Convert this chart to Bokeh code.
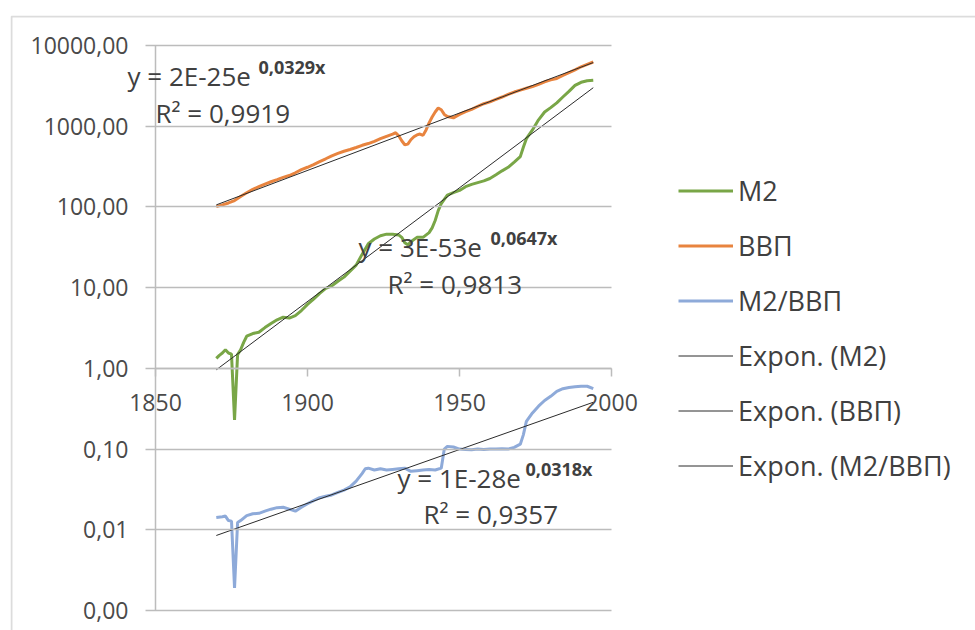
from bokeh.plotting import figure
from bokeh.models import (FixedTicker, CustomJSTickFormatter, Legend, LegendItem,
                          Label, BoxAnnotation, LinearAxis)
from bokeh.embed import file_html
from bokeh.resources import INLINE

# ---- data ----
m2_years = [1870, 1871, 1872, 1873, 1874, 1875, 1876, 1877, 1878, 1879, 1880, 1881, 1882,
            1884, 1886, 1888, 1890, 1892, 1894, 1896, 1898, 1900, 1902, 1904, 1906, 1908,
            1910, 1912, 1914, 1916, 1918, 1920, 1922, 1924, 1926, 1928, 1930, 1931, 1932,
            1933, 1934, 1936, 1938, 1940, 1941, 1942, 1943, 1944, 1946, 1948, 1950, 1952,
            1954, 1956, 1958, 1960, 1962, 1964, 1966, 1968, 1970, 1971, 1972, 1974, 1976,
            1978, 1980, 1982, 1984, 1986, 1988, 1990, 1992, 1994]
m2 = [1.33, 1.45, 1.55, 1.7, 1.55, 1.5, 0.23, 1.48, 1.7, 2.1, 2.5, 2.6, 2.7,
      2.8, 3.2, 3.6, 4.0, 4.3, 4.2, 4.5, 5.2, 6.2, 7.2, 8.5, 9.8, 10.5,
      12.0, 13.5, 16, 19, 26, 35, 40, 44, 46, 46, 45, 42, 36,
      34, 37, 42, 42, 48, 55, 68, 90, 110, 140, 150, 160, 178,
      190, 200, 210, 225, 250, 280, 310, 360, 420, 550, 700, 900, 1200,
      1500, 1700, 1950, 2300, 2700, 3200, 3500, 3650, 3700]

gdp_years = [1870, 1872, 1874, 1876, 1878, 1880, 1882, 1884, 1886, 1888, 1890, 1892, 1894,
             1896, 1898, 1900, 1902, 1904, 1906, 1908, 1910, 1912, 1914, 1916, 1918, 1920,
             1922, 1924, 1926, 1928, 1929, 1930, 1931, 1932, 1933, 1934, 1935, 1936, 1937,
             1938, 1939, 1940, 1941, 1942, 1943, 1944, 1945, 1946, 1948, 1950, 1952, 1954,
             1956, 1958, 1960, 1962, 1964, 1966, 1968, 1970, 1972, 1974, 1976, 1978, 1980,
             1982, 1984, 1986, 1988, 1990, 1992, 1994]
gdp = [101, 106, 112, 120, 135, 150, 165, 178, 192, 205, 218, 232, 245,
       265, 290, 310, 335, 365, 395, 430, 460, 490, 515, 545, 580, 610,
       650, 700, 750, 800, 830, 760, 660, 590, 600, 680, 740, 780, 800,
       770, 900, 1100, 1300, 1500, 1680, 1600, 1400, 1320, 1270, 1400, 1520, 1620,
       1760, 1900, 2000, 2150, 2300, 2480, 2650, 2800, 2950, 3100, 3300, 3550, 3750,
       3900, 4250, 4600, 5000, 5450, 5850, 6250]

ratio_years = [1870, 1872, 1873, 1874, 1875, 1876, 1877, 1878, 1880, 1882, 1884, 1886, 1888,
               1890, 1892, 1894, 1896, 1898, 1900, 1902, 1904, 1906, 1908, 1910, 1912, 1914,
               1916, 1918, 1919, 1920, 1922, 1924, 1926, 1928, 1930, 1932, 1934, 1936, 1938,
               1940, 1942, 1944, 1945, 1946, 1948, 1950, 1952, 1954, 1956, 1958, 1960, 1962,
               1964, 1966, 1968, 1970, 1971, 1972, 1974, 1976, 1978, 1980, 1982, 1984, 1986,
               1988, 1990, 1992, 1994]
ratio = [0.0142, 0.0145, 0.0148, 0.013, 0.0128, 0.0019, 0.0123, 0.013, 0.015, 0.0158, 0.016, 0.017, 0.018,
         0.0188, 0.019, 0.018, 0.017, 0.019, 0.021, 0.023, 0.025, 0.026, 0.027, 0.029, 0.031, 0.034,
         0.04, 0.05, 0.057, 0.058, 0.055, 0.057, 0.055, 0.056, 0.057, 0.058, 0.053, 0.054, 0.055,
         0.056, 0.055, 0.058, 0.1, 0.108, 0.106, 0.1, 0.099, 0.098, 0.1, 0.099, 0.1, 0.1,
         0.101, 0.1, 0.105, 0.115, 0.15, 0.22, 0.28, 0.34, 0.4, 0.45, 0.52, 0.56, 0.58,
         0.59, 0.6, 0.6, 0.56]

trend_years = [1870, 1994]
trend_m2 = [0.96, 3000]
trend_gdp = [106, 6150]
trend_ratio = [0.0085, 0.38]

x_ticks = [1850, 1900, 1950, 2000]
y_ticks = [0.001, 0.01, 0.1, 1, 10, 100, 1000, 10000]

series_names = ["M2", "ВВП", "M2/ВВП"]
trend_names = ["Expon. (M2)", "Expon. (ВВП)", "Expon. (M2/ВВП)"]
eq_texts = [("y = 2E-25e", "0,0329x", "R² = 0,9919"),
            ("y = 3E-53e", "0,0647x", "R² = 0,9813"),
            ("y = 1E-28e", "0,0318x", "R² = 0,9357")]

# ---- styles / layout ----
GREEN = "#79a647"
ORANGE = "#e8843f"
BLUE = "#8eaad9"
TREND = "#2b2b2b"
GRID = "#bcbcbc"
TXT = "#404040"
TICK_TXT = "#4a4a4a"
FONT = "Open Sans"

W, H = 975, 630
FL, FT = 10, 15                 # frame left / top in page pixels (chart border)
AX_L, AX_R = 155, 611           # pixel x of 1850 / 2000
AX_T, AX_B = 45, 610            # pixel y of 10000 / 0.001
kx = (AX_R - AX_L) / 150.0
ky = (AX_B - AX_T) / 7.0
x0 = 1850 - (AX_L - FL) / kx
x1 = 2000 + (W - AX_R) / kx
ly0 = -3 - (H - AX_B) / ky
ly1 = 4 + (AX_T - FT) / ky

p = figure(width=W, height=H, y_axis_type="log",
           x_range=(x0, x1), y_range=(10 ** ly0, 10 ** ly1),
           output_backend="svg", toolbar_location=None,
           x_axis_location=None,
           min_border_left=FL, min_border_right=0,
           min_border_top=FT, min_border_bottom=0)
p.outline_line_color = None
p.background_fill_color = "white"
p.border_fill_color = "white"
p.xgrid.grid_line_color = None
p.ygrid.grid_line_color = None

# y axis at x = 1850; its long inner ticks act as the horizontal gridlines
yax = p.yaxis[0]
yax.fixed_location = 1850
yax.bounds = (0.001, 10000)
yax.ticker = FixedTicker(ticks=y_ticks, minor_ticks=[])
yax.formatter = CustomJSTickFormatter(code="return tick.toFixed(2).replace('.', ',');")
yax.axis_line_color = GRID
yax.axis_line_width = 1.5
yax.major_tick_line_color = GRID
yax.major_tick_line_width = 1.5
yax.major_tick_out = 10
yax.major_tick_in = AX_R - AX_L
yax.minor_tick_line_color = None
yax.major_label_standoff = 17
yax.major_label_text_font = FONT
yax.major_label_text_font_size = "23px"
yax.major_label_text_color = TICK_TXT

# x axis crossing at y = 1
xax = LinearAxis(ticker=FixedTicker(ticks=x_ticks, minor_ticks=[]), fixed_location=1,
                 bounds=(1850, 2000))
xax.axis_line_color = GRID
xax.axis_line_width = 1.5
xax.major_tick_line_color = GRID
xax.major_tick_line_width = 1.5
xax.major_tick_out = 8
xax.major_tick_in = 0
xax.minor_tick_line_color = None
xax.major_label_standoff = 18
xax.major_label_text_font = FONT
xax.major_label_text_font_size = "23px"
xax.major_label_text_color = TICK_TXT
p.add_layout(xax, "below")

# series
r_m2 = p.line(m2_years, m2, line_color=GREEN, line_width=3)
r_gdp = p.line(gdp_years, gdp, line_color=ORANGE, line_width=3)
r_ratio = p.line(ratio_years, ratio, line_color=BLUE, line_width=3)
t_m2 = p.line(trend_years, trend_m2, line_color=TREND, line_width=1)
t_gdp = p.line(trend_years, trend_gdp, line_color=TREND, line_width=1)
t_ratio = p.line(trend_years, trend_ratio, line_color=TREND, line_width=1)

# equations (pixel anchors converted through the ranges)
def px2x(px):
    return x0 + (px - FL) / kx

def py2y(py):
    return 10 ** (ly1 - (py - FT) / ky)

eq_px = [((127, 75), (258, 66), (155, 112)),
         ((358, 246), (490, 237), (387, 283)),
         ((397, 477), (525, 468), (423, 513))]
for (main, sup, r2), (pm, ps, pr) in zip(eq_texts, eq_px):
    p.add_layout(Label(x=px2x(pm[0]), y=py2y(pm[1]), text=main, text_font=FONT,
                       text_font_size="26px", text_color=TXT,
                       text_baseline="middle", text_align="left"))
    p.add_layout(Label(x=px2x(ps[0]), y=py2y(ps[1]), text=sup, text_font=FONT,
                       text_font_size="18px", text_font_style="bold", text_color=TXT,
                       text_baseline="middle", text_align="left"))
    p.add_layout(Label(x=px2x(pr[0]), y=py2y(pr[1]), text=r2, text_font=FONT,
                       text_font_size="26px", text_color=TXT,
                       text_baseline="middle", text_align="left"))

# legend
items = [LegendItem(label=n, renderers=[r]) for n, r in
         zip(series_names + trend_names, [r_m2, r_gdp, r_ratio, t_m2, t_gdp, t_ratio])]
legend = Legend(items=items, location=(678 - FL, H - 493),
                orientation="vertical",
                label_text_font=FONT, label_text_font_size="27px", label_text_color=TXT,
                glyph_width=55, glyph_height=55, label_height=55, spacing=0,
                label_standoff=5, padding=0, margin=0,
                border_line_color=None, background_fill_alpha=0)
p.add_layout(legend, "center")

# chart border (left and top visible, the rest runs off the page)
p.add_layout(BoxAnnotation(left=px2x(FL + 1), right=x1 + 100,
                           top=py2y(FT + 1), bottom=10 ** (ly0 - 2),
                           fill_alpha=0, line_color="#8a8a8a", line_width=2))

open("out.html", "w").write(file_html(p, INLINE))
